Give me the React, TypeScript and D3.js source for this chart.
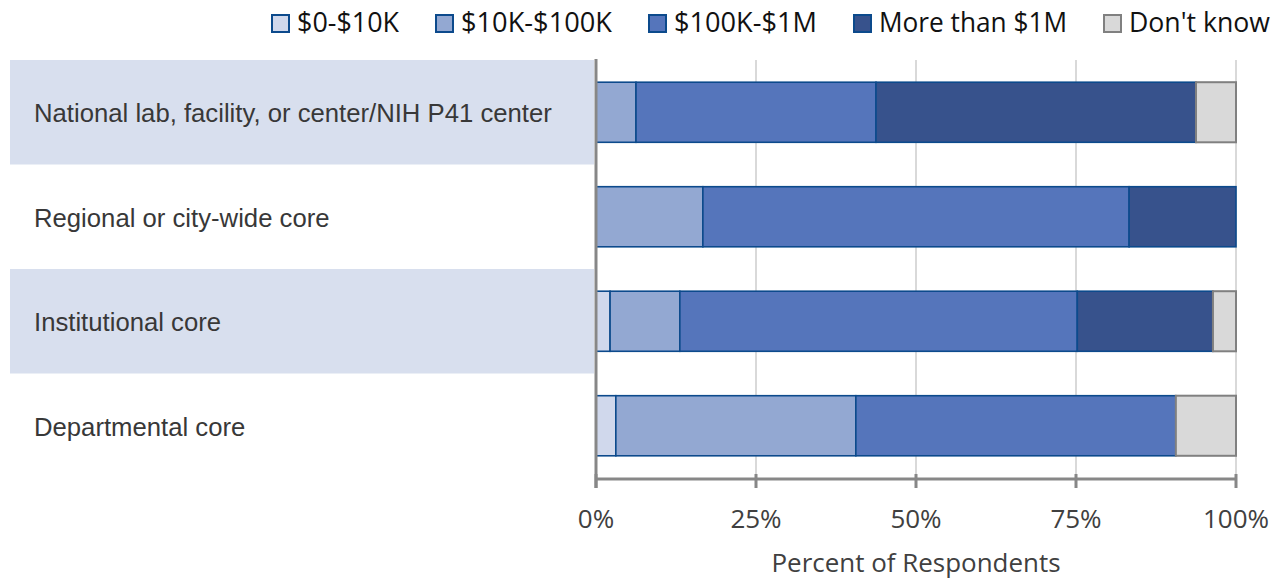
import React from 'react';
import * as d3 from 'd3';

// survey data: percent of respondents per core type
const categories = [
  'National lab, facility, or center/NIH P41 center',
  'Regional or city-wide core',
  'Institutional core',
  'Departmental core',
];
const seriesNames = ['$0-$10K', '$10K-$100K', '$100K-$1M', 'More than $1M', "Don't know"];
const under10K = [0, 0, 2.2, 3.1];
const from10Kto100K = [6.25, 16.7, 10.9, 37.5];
const from100Kto1M = [37.5, 66.6, 62.1, 50];
const over1M = [50, 16.7, 21.2, 0];
const dontKnow = [6.25, 0, 3.6, 9.4];
const tickValues = [0, 25, 50, 75, 100];
const tickLabels = ['0%', '25%', '50%', '75%', '100%'];
const legendWidths = [102, 151, 143, 188, 141];

const fills = ['#d0d8ec', '#93a8d2', '#5575bb', '#37528c', '#d9d9d9'];
const strokes = ['#0c4a8c', '#0c4a8c', '#0c4a8c', '#0c4a8c', '#808080'];

const W = 1286;
const H = 579;

export default function App() {
  const x = d3.scaleLinear().domain([0, 100]).range([596, 1236]);
  const y = d3.scaleBand<string>().domain(categories).range([60, 478]).padding(0);
  const barH = y.bandwidth() * 0.575;

  const rows = categories.map((c, i) => ({
    cat: c,
    vals: [under10K[i], from10Kto100K[i], from100Kto1M[i], over1M[i], dontKnow[i]],
  }));
  const stack = d3.stack<any>().keys([0, 1, 2, 3, 4] as any).value((d: any, k: any) => d.vals[k]);
  const stacked = stack(rows);

  // legend laid out right to left from the right edge
  const sq = 17;
  const legendItems: { x: number; name: string; i: number }[] = [];
  let cursor = 1270;
  for (let i = seriesNames.length - 1; i >= 0; i--) {
    const tx = cursor - legendWidths[i];
    legendItems.unshift({ x: tx, name: seriesNames[i], i });
    cursor = tx - 8 - sq - 37;
  }

  const myriad = "'Open Sans', 'Noto Sans', sans-serif";
  const helv = "'Liberation Sans', Arial, sans-serif";

  return (
    <div style={{ position: 'fixed', left: 0, top: 0 }}>
      <svg width={W} height={H} style={{ display: 'block', background: '#fff' }}>
        {/* alternating highlight bands */}
        {categories.map((c, i) =>
          i % 2 === 0 ? (
            <rect key={c} x={10} y={y(c)!} width={584} height={y.bandwidth()} fill="#d8dfee" />
          ) : null
        )}
        {/* gridlines */}
        {tickValues.slice(1).map((t) => (
          <line key={t} x1={x(t)} x2={x(t)} y1={60} y2={479} stroke="#d9d9d9" strokeWidth={2} />
        ))}
        {/* bars */}
        {stacked.map((layer, k) =>
          layer.map((seg, i) => {
            const w = x(seg[1]) - x(seg[0]);
            if (w <= 0) return null;
            const cy = y(categories[i])! + y.bandwidth() / 2;
            return (
              <rect
                key={k + '-' + i}
                x={x(seg[0])}
                y={cy - barH / 2}
                width={w}
                height={barH}
                fill={fills[k]}
                stroke={strokes[k]}
                strokeWidth={k === 4 ? 2 : 1.6}
              />
            );
          })
        )}
        {/* axes */}
        <line x1={596} x2={596} y1={59} y2={488} stroke="#878787" strokeWidth={3} />
        <line x1={596} x2={1237} y1={479} y2={479} stroke="#878787" strokeWidth={3} />
        {tickValues.map((t) => (
          <line key={t} x1={x(t)} x2={x(t)} y1={474} y2={488} stroke="#878787" strokeWidth={3} />
        ))}
        {tickValues.map((t, i) => (
          <text
            key={t}
            x={x(t)}
            y={528}
            textAnchor="middle"
            fontFamily={myriad}
            fontSize={26}
            fill="#404040"
          >
            {tickLabels[i]}
          </text>
        ))}
        <text
          x={x(50)}
          y={572}
          textAnchor="middle"
          fontFamily={myriad}
          fontSize={25}
          fill="#404040"
          textLength={289}
          lengthAdjust="spacingAndGlyphs"
        >
          Percent of Respondents
        </text>
        {/* category labels */}
        {categories.map((c) => (
          <text
            key={c}
            x={34}
            y={y(c)! + y.bandwidth() / 2 + 10}
            fontFamily={helv}
            fontSize={25.7}
            fill="#383838"
          >
            {c}
          </text>
        ))}
        {/* legend */}
        {legendItems.map((d) => (
          <g key={d.name}>
            <rect
              x={d.x - 8 - sq}
              y={15}
              width={sq}
              height={sq}
              fill={fills[d.i]}
              stroke={strokes[d.i]}
              strokeWidth={2}
            />
            <text
              x={d.x}
              y={32}
              fontFamily={myriad}
              fontSize={28}
              fill="#111"
              textLength={legendWidths[d.i]}
              lengthAdjust="spacingAndGlyphs"
            >
              {d.name}
            </text>
          </g>
        ))}
      </svg>
    </div>
  );
}
